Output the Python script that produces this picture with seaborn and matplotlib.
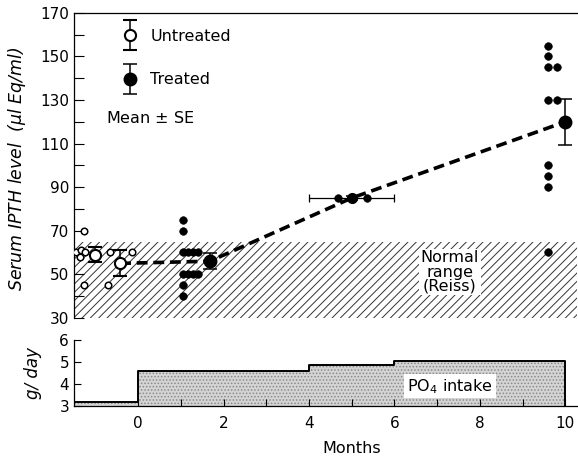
import numpy as np
import pandas as pd
import matplotlib
matplotlib.use('Agg')
import matplotlib.pyplot as plt
import seaborn as sns
from matplotlib.container import ErrorbarContainer
from matplotlib.legend_handler import HandlerErrorbar

# individual serum IPTH values (months, ul Eq/ml)
untreated_x = [-1.45, -1.34, -1.36, -1.24, -1.26, -1.26, -0.70, -0.65, -0.15]
untreated_y = [60, 61, 58, 60, 70, 45, 45, 60, 60]
treated_x = [1.05, 1.05, 1.05, 1.17, 1.29, 1.41, 1.05, 1.17, 1.29, 1.41, 1.05, 1.05,
             4.67, 5.35,
             9.6, 9.6, 9.6, 9.8, 9.6, 9.8, 9.6, 9.6, 9.6, 9.6]
treated_y = [75, 70, 60, 60, 60, 60, 50, 50, 50, 50, 45, 40,
             85, 85,
             155, 150, 145, 145, 130, 130, 100, 95, 90, 60]

# group means +- SE
untr_mean_x = [-1.0, -0.42]
untr_mean_y = [59, 55]
untr_se = [3.5, 6]
tr_mean_x = [1.68, 5.0, 10.0]
tr_mean_y = [56, 85, 120]
tr_se = [3.7, 1, 10.5]
tr_xerr = [0, 1, 0]

# normal range (Reiss)
normal_lo, normal_hi = 30, 65

# PO4 intake steps (g/day)
po4_months = [-1.5, 0, 4, 6, 10]
po4_intake = [3.2, 4.6, 4.85, 5.05, 5.05]

sns.set_style('ticks')
plt.rcParams['font.family'] = ['DejaVu Sans']
plt.rcParams['hatch.linewidth'] = 0.7
plt.rcParams['xtick.direction'] = 'in'
plt.rcParams['ytick.direction'] = 'in'
for k in ['text.color', 'axes.labelcolor', 'xtick.color', 'ytick.color', 'axes.edgecolor']:
    plt.rcParams[k] = 'black'

fig = plt.figure(figsize=(5.78, 4.58), dpi=100)
ax1 = fig.add_axes([0.128, 0.306, 0.87, 0.666])
ax2 = fig.add_axes([0.128, 0.1135, 0.87, 0.1445])

xlim = (-1.5, 10.27)

# ---- top panel ----
ax1.axhspan(normal_lo, normal_hi, facecolor='white', edgecolor='#333333',
            hatch='////', linewidth=0, zorder=0)

df_mean = pd.DataFrame({'x': untr_mean_x[1:] + tr_mean_x, 'y': untr_mean_y[1:] + tr_mean_y})
sns.lineplot(data=df_mean, x='x', y='y', ax=ax1, color='black', lw=2.6,
             dashes=False, linestyle=(0, (3, 1.6)), zorder=2)

sns.scatterplot(x=untreated_x, y=untreated_y, ax=ax1, marker='o', s=22,
                facecolor='white', edgecolor='black', linewidth=1.1, zorder=3)
sns.scatterplot(x=treated_x, y=treated_y, ax=ax1, marker='o', s=30,
                color='black', edgecolor='black', zorder=3)

eb_u = ax1.errorbar(untr_mean_x, untr_mean_y, yerr=untr_se, fmt='o', ms=8,
                    mfc='white', mec='black', mew=1.5, ecolor='black',
                    elinewidth=1.1, capsize=5, capthick=1.1, zorder=4,
                    label='Untreated')
ax1.errorbar([tr_mean_x[1]], [tr_mean_y[1]], xerr=[tr_xerr[1]], fmt='none',
             ecolor='black', elinewidth=0.9, capsize=3, capthick=0.9, zorder=4)
eb_t = ax1.errorbar([tr_mean_x[0], tr_mean_x[2]], [tr_mean_y[0], tr_mean_y[2]],
                    yerr=[tr_se[0], tr_se[2]], fmt='o', ms=9, color='black',
                    elinewidth=1.1, capsize=5, capthick=1.1, zorder=4,
                    label='Treated')
ax1.errorbar([tr_mean_x[1]], [tr_mean_y[1]], yerr=[tr_se[1]], fmt='o', ms=7,
             color='black', elinewidth=1.1, capsize=4, capthick=1.1, zorder=4)

leg = ax1.legend(handles=[eb_u, eb_t], loc='upper left', frameon=False,
                 bbox_to_anchor=(0.066, 0.995), fontsize=11.5, labelspacing=1.8,
                 handlelength=1.0, handletextpad=0.8, numpoints=1,
                 handler_map={ErrorbarContainer: HandlerErrorbar(xerr_size=0.35, yerr_size=0.95)})
ax1.text(0.064, 0.656, 'Mean $\\pm$ SE', transform=ax1.transAxes, fontsize=11.5,
         va='center', ha='left')

ax1.text(7.3, 51, 'Normal\nrange\n(Reiss)', ha='center', va='center', fontsize=11.5,
         linespacing=0.95,
         bbox=dict(facecolor='white', edgecolor='none', pad=1))

ax1.set_xlim(xlim)
ax1.set_ylim(30, 170)
ax1.set_yticks(np.arange(30, 171, 20))
ax1.set_yticks(np.arange(40, 171, 20), minor=True)
ax1.tick_params(axis='y', which='both', length=7, width=0.8, labelsize=11)
ax1.set_xticks([])
ax1.spines['right'].set_visible(False)
ax1.spines['bottom'].set_visible(False)
for sp in ax1.spines.values():
    sp.set_linewidth(0.9)
ax1.set_xlabel('')
ax1.set_ylabel('Serum IPTH level  ($\\mu$l Eq/ml)', fontsize=12.5, style='italic')
ax1.yaxis.set_label_coords(-0.092, 0.49)

# ---- bottom panel ----
ax2.fill_between(po4_months, 3, po4_intake, step='post', facecolor='#d4d4d4',
                 edgecolor='#8a8a8a', hatch='.....', linewidth=0, zorder=0)
df_po4 = pd.DataFrame({'x': po4_months, 'y': po4_intake})
sns.lineplot(data=df_po4, x='x', y='y', ax=ax2, drawstyle='steps-post',
             color='black', lw=1.4, zorder=2)
ax2.vlines(po4_months[-1], 3, po4_intake[-1], color='black', lw=1.4, zorder=2)
ax2.text(7.3, 3.9, 'PO$_4$ intake', ha='center', va='center', fontsize=11.5,
         bbox=dict(facecolor='white', edgecolor='none', pad=2))

ax2.set_xlim(xlim)
ax2.set_ylim(3, 6)
ax2.set_yticks([3, 4, 5, 6])
ax2.set_xticks(np.arange(0, 11, 2))
ax2.set_xticks(np.arange(1, 11, 2), minor=True)
ax2.tick_params(axis='both', which='both', length=5, width=0.8, labelsize=11)
ax2.tick_params(axis='x', pad=7.5)
ax2.spines['right'].set_visible(False)
ax2.spines['top'].set_visible(False)
for sp in ax2.spines.values():
    sp.set_linewidth(0.9)
ax2.set_xlabel('Months', fontsize=11.5, labelpad=7, x=0.552)
ax2.set_ylabel('g/ day', fontsize=12, style='italic')
ax2.yaxis.set_label_coords(-0.064, 0.5)

fig.savefig('out.png', dpi=100)
